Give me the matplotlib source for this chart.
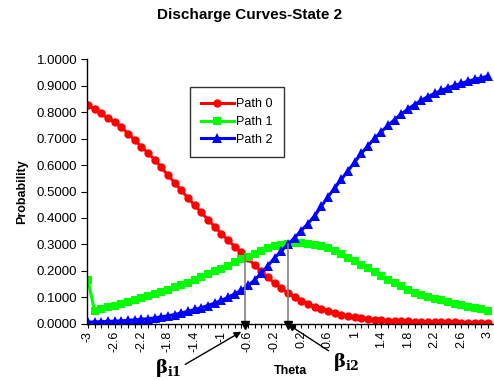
import matplotlib
matplotlib.use('Agg')
import matplotlib.pyplot as plt
import numpy as np

# theta categories, -3..3 in steps of 0.1 (Excel category axis)
theta = [round(-3 + 0.1 * i, 1) for i in range(61)]

# values
path0 = [0.827, 0.811, 0.795, 0.778, 0.762, 0.744, 0.719, 0.695, 0.670, 0.646,
         0.620, 0.591, 0.562, 0.533, 0.504, 0.476, 0.448, 0.421, 0.394, 0.367,
         0.341, 0.316, 0.292, 0.270, 0.247, 0.222, 0.198, 0.175, 0.153, 0.134,
         0.117, 0.101, 0.087, 0.075, 0.065, 0.056, 0.048, 0.041, 0.035, 0.030,
         0.026, 0.022, 0.019, 0.016, 0.014, 0.012, 0.011, 0.010, 0.009, 0.008,
         0.007, 0.007, 0.006, 0.006, 0.005, 0.005, 0.004, 0.004, 0.004, 0.003,
         0.003]
path1 = [0.165, 0.047, 0.055, 0.062, 0.069, 0.076, 0.083, 0.090, 0.097, 0.104,
         0.111, 0.120, 0.129, 0.138, 0.147, 0.156, 0.166, 0.177, 0.188, 0.198,
         0.208, 0.220, 0.232, 0.243, 0.254, 0.265, 0.275, 0.285, 0.293, 0.299,
         0.303, 0.305, 0.305, 0.303, 0.299, 0.293, 0.285, 0.275, 0.263, 0.250,
         0.237, 0.223, 0.209, 0.195, 0.181, 0.167, 0.154, 0.141, 0.129, 0.118,
         0.108, 0.100, 0.094, 0.088, 0.082, 0.076, 0.070, 0.065, 0.060, 0.055,
         0.050]
path2 = [0.006, 0.007, 0.008, 0.009, 0.010, 0.011, 0.013, 0.015, 0.017, 0.019,
         0.022, 0.026, 0.030, 0.035, 0.041, 0.047, 0.054, 0.061, 0.069, 0.078,
         0.088, 0.100, 0.113, 0.127, 0.145, 0.165, 0.192, 0.220, 0.249, 0.275,
         0.300, 0.325, 0.352, 0.379, 0.408, 0.444, 0.480, 0.513, 0.546, 0.578,
         0.611, 0.644, 0.673, 0.701, 0.726, 0.750, 0.772, 0.793, 0.812, 0.829,
         0.845, 0.859, 0.871, 0.882, 0.892, 0.901, 0.909, 0.917, 0.924, 0.930,
         0.936]

series_names = ['Path 0', 'Path 1', 'Path 2']
beta_i1 = -0.65   # red/green crossing
beta_i2 = 0.0     # green/blue crossing

plt.rcParams['font.family'] = ['Liberation Sans', 'DejaVu Sans']
plt.rcParams['mathtext.fontset'] = 'dejavuserif'

fig = plt.figure(figsize=(4.94, 3.80), dpi=100)
ax = fig.add_axes([0.176, 0.148, 0.824, 0.696])

ax.plot(theta, path0, color='#ff0000', marker='o', ms=6, lw=2.2, mew=0, label=series_names[0])
ax.plot(theta, path1, color='#00ff00', marker='s', ms=6, lw=2.2, mew=0, label=series_names[1])
ax.plot(theta, path2, color='#0000ff', marker='^', ms=6.5, lw=2.2, mew=0, label=series_names[2])

ax.set_xlim(-3.015, 3.09)
ax.set_ylim(0, 1.0)

# category ticks on every point, labels every 4th
ax.set_xticks(theta)
ax.set_xticklabels(['%g' % t if i % 4 == 0 else '' for i, t in enumerate(theta)],
                   rotation=90, fontsize=9)
yt = np.arange(0, 1.01, 0.1)
ax.set_yticks(yt)
ax.set_yticklabels(['%.4f' % v for v in yt], fontsize=9.5)
ax.tick_params(axis='x', length=3, width=0.8, pad=2)
ax.tick_params(axis='y', length=4, width=0.8, pad=3)

ax.spines['top'].set_visible(False)
ax.spines['right'].set_visible(False)
ax.spines['left'].set_linewidth(1)
ax.spines['bottom'].set_linewidth(1)

ax.set_xlabel('Theta', fontsize=9, fontweight='bold', labelpad=9)
ax.set_ylabel('Probability', fontsize=9, fontweight='bold', labelpad=6)
fig.text(0.505, 0.961, 'Discharge Curves-State 2', ha='center', va='center',
         fontsize=11, fontweight='bold')

leg = ax.legend(loc='upper left', bbox_to_anchor=(0.253, 0.895), fontsize=9,
                frameon=True, fancybox=False, handlelength=2.6, borderpad=0.9,
                labelspacing=0.45, handletextpad=0.2, borderaxespad=0)
leg.get_frame().set_edgecolor('black')
leg.get_frame().set_linewidth(1)

# drop lines at the beta thresholds
for b, top_series in [(beta_i1, path0), (beta_i2, path2)]:
    h = np.interp(b, theta, top_series)
    ax.plot([b, b], [h, 0.01], color='#808080', lw=1.2, zorder=5)
    ax.plot([b], [-0.006], marker='v', color='black', ms=6, clip_on=False, zorder=6)

ax.annotate(r'$\mathbf{\beta_{i1}}$', xy=(beta_i1 - 0.05, -0.03), xycoords='data',
            xytext=(0.34, 0.032), textcoords='figure fraction', ha='center', va='center',
            fontsize=13, annotation_clip=False,
            arrowprops=dict(arrowstyle='-|>', color='black', lw=1, mutation_scale=10,
                            shrinkA=1, shrinkB=0, relpos=(1.0, 0.55)))
ax.annotate(r'$\mathbf{\beta_{i2}}$', xy=(beta_i2, -0.002), xycoords='data',
            xytext=(0.70, 0.047), textcoords='figure fraction', ha='center', va='center',
            fontsize=13, annotation_clip=False,
            arrowprops=dict(arrowstyle='-|>', color='black', lw=1, mutation_scale=10,
                            shrinkA=1, shrinkB=0, relpos=(0.0, 0.9)))

fig.savefig('out.png', dpi=100)
